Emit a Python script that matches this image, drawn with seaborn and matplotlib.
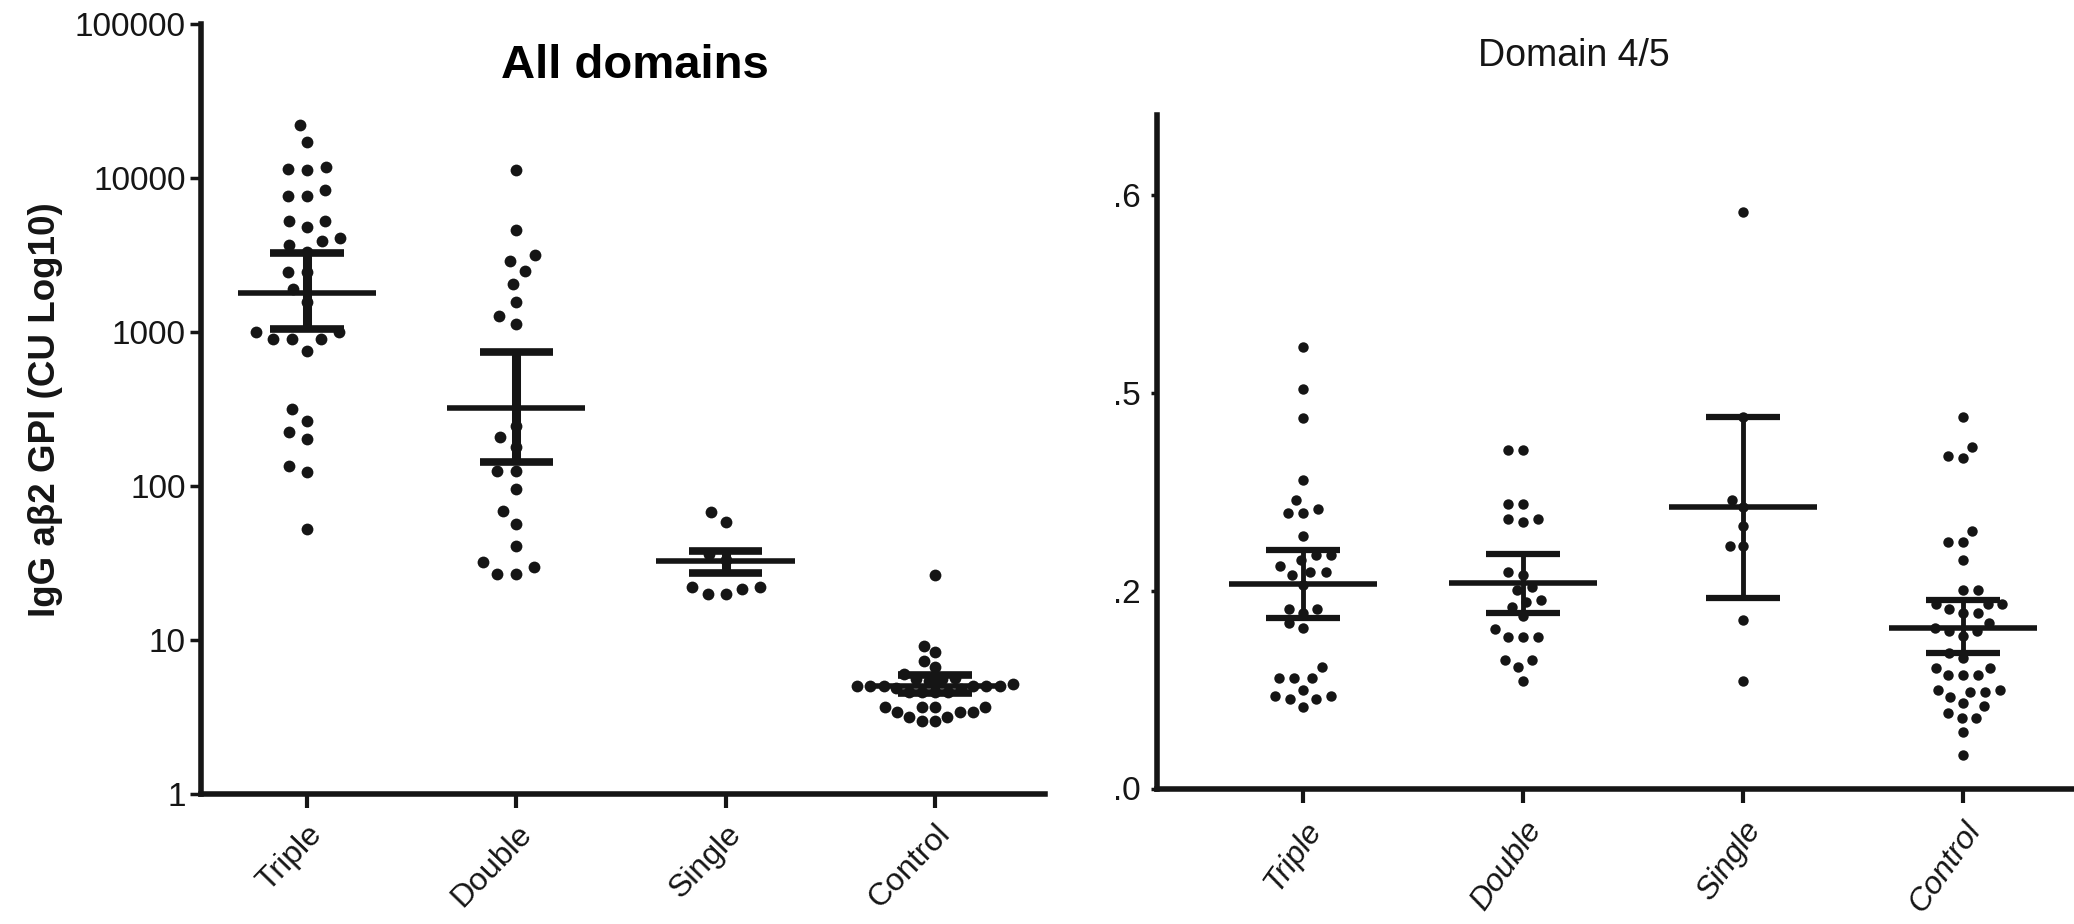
import numpy as np
import pandas as pd
import seaborn as sns
import matplotlib.pyplot as plt
from matplotlib.collections import PathCollection
from matplotlib.ticker import NullLocator

groups = ['Triple', 'Double', 'Single', 'Control']

# All domains (CU, log axis)
all_triple = [22100, 17200, 11500, 11200, 11800, 8400, 7600, 7600, 5280, 5280,
              4830, 4060, 3670, 3920, 3300, 2465, 2465, 1900, 1573, 1000, 1000,
              900, 900, 900, 757, 316, 266, 223, 202, 135, 123, 52.6]
all_double = [11300, 4610, 3160, 2900, 2500, 2050, 1573, 1277, 1127, 246, 207,
              180, 126, 126, 95.7, 69, 56.7, 40.6, 32, 29.7, 26.8, 26.8]
all_single = [67.5, 58.7, 36, 33, 22, 22, 19.9, 19.9, 21.4]
all_control = [26.4, 9.2, 8.3, 7.3, 6.65, 6.0, 5.7, 5.58, 5.58, 5.4, 5.2,
               5.05, 5.05, 5.05, 5.05, 5.05, 5.05, 4.9, 4.8, 4.57, 4.57, 4.57,
               4.57, 3.66, 3.66, 3.66, 3.66, 3.39, 3.39, 3.39, 3.15, 3.15,
               2.99, 2.99]
all_mean = [1784, 319, 32.4, 5.0]
all_lo = [1047, 143, 27.1, 4.5]
all_hi = [3245, 738, 38.0, 5.9]

# Domain 4/5
d45_triple = [0.446, 0.404, 0.375, 0.312, 0.292, 0.283, 0.279, 0.279, 0.255,
              0.236, 0.236, 0.231, 0.225, 0.219, 0.219, 0.216, 0.206, 0.182,
              0.182, 0.177, 0.167, 0.162, 0.123, 0.112, 0.112, 0.112, 0.100,
              0.094, 0.094, 0.090, 0.090, 0.082]
d45_double = [0.342, 0.342, 0.288, 0.288, 0.272, 0.272, 0.269, 0.219, 0.216,
              0.204, 0.201, 0.191, 0.189, 0.184, 0.174, 0.161, 0.153, 0.153,
              0.153, 0.130, 0.130, 0.123, 0.109]
d45_single = [0.583, 0.376, 0.292, 0.285, 0.265, 0.245, 0.245, 0.170, 0.109]
d45_control = [0.376, 0.345, 0.336, 0.334, 0.260, 0.249, 0.249, 0.231, 0.201,
               0.201, 0.187, 0.187, 0.187, 0.182, 0.177, 0.177, 0.167, 0.162,
               0.159, 0.159, 0.154, 0.137, 0.132, 0.122, 0.122, 0.115, 0.115,
               0.115, 0.100, 0.100, 0.098, 0.098, 0.093, 0.086, 0.083, 0.076,
               0.071, 0.071, 0.057, 0.034]
d45_mean = [0.2065, 0.2075, 0.285, 0.162]
d45_lo = [0.172, 0.177, 0.193, 0.137]
d45_hi = [0.241, 0.237, 0.376, 0.191]
d45_ticks = [0.0, 0.2, 0.4, 0.6]
d45_ticklabels = ['.0', '.2', '.5', '.6']


def long_table(cols):
    return pd.DataFrame({'group': np.repeat(groups, [len(c) for c in cols]),
                         'value': np.concatenate(cols)})


def mean_err(ax, mean, lo, hi, mw, cw, lw_mean, lw_cap, lw_bar):
    for i in range(len(groups)):
        ax.vlines(i, lo[i], hi[i], color=ink, lw=lw_bar, zorder=4)
        ax.hlines([lo[i], hi[i]], i - cw, i + cw, color=ink, lw=lw_cap, zorder=4)
        ax.hlines(mean[i], i - mw, i + mw, color=ink, lw=lw_mean, zorder=4)


def spread_swarm(ax, layout_sizes, dot_size):
    # lay the swarm out with wider spacing, then freeze it and shrink the dots
    cols = [c for c in ax.collections if isinstance(c, PathCollection)]
    for c, s in zip(cols, layout_sizes):
        c.set_sizes([s ** 2])
    ax.figure.canvas.draw()
    for c in cols:
        c.__dict__.pop('draw', None)
        c.set_sizes([dot_size ** 2])


sns.set_style('ticks')
plt.rcParams['font.family'] = ['Liberation Sans', 'DejaVu Sans']
ink = '#151515'

fig = plt.figure(figsize=(20.74, 9.24), dpi=100)
W, H = 2074, 924
ax1 = fig.add_axes([201 / W, 130 / H, 844 / W, 770 / H])
ax2 = fig.add_axes([1157 / W, 135.5 / H, 917 / W, 673.5 / H])

# left panel
df1 = long_table([all_triple, all_double, all_single, all_control])
sns.swarmplot(data=df1, x='group', y='value', order=groups, color=ink,
              size=8, log_scale=(False, True), ax=ax1)
ax1.set_ylim(1, 1e5)
ax1.set_xlim(-0.506, 3.526)

# right panel
df2 = long_table([d45_triple, d45_double, d45_single, d45_control])
sns.swarmplot(data=df2, x='group', y='value', order=groups, color=ink,
              size=7, ax=ax2)
ax2.set_ylim(0, 0.681)
ax2.set_xlim(-0.664, 3.505)

spread_swarm(ax1, [13, 13, 12, 9], 8.5)
spread_swarm(ax2, [10.5, 10.5, 9, 10], 7.5)

mean_err(ax1, all_mean, all_lo, all_hi, 0.33, 0.175, 4, 5.5, 6.5)
ax1.set_yticks([1, 10, 100, 1000, 10000, 100000])
ax1.set_yticklabels(['1', '10', '100', '1000', '10000', '100000'])
ax1.yaxis.set_minor_locator(NullLocator())
ax1.set_xticks(range(4))
ax1.set_xticklabels(groups, rotation=46, ha='right', rotation_mode='anchor')
ax1.tick_params(axis='y', length=8, width=2.5, labelsize=24, pad=3, colors=ink)
ax1.tick_params(axis='x', length=10, width=3, labelsize=23, pad=8, colors=ink)

mean_err(ax2, d45_mean, d45_lo, d45_hi, 0.335, 0.17, 4, 4.5, 3.5)
ax2.set_yticks(d45_ticks)
ax2.set_yticklabels(d45_ticklabels)
ax2.set_xticks(range(4))
ax2.set_xticklabels(groups, rotation=55, ha='right', rotation_mode='anchor',
                    style='italic')
ax2.tick_params(axis='y', length=4, width=2.5, labelsize=24, pad=8, colors=ink)
ax2.tick_params(axis='x', length=10, width=3, labelsize=23, pad=10, colors=ink)

for ax in (ax1, ax2):
    sns.despine(ax=ax)
    for s in ('left', 'bottom'):
        ax.spines[s].set_linewidth(4)
        ax.spines[s].set_color(ink)
    ax.set_xlabel('')
    ax.set_ylabel('')

fig.text(635 / W, 1 - 66 / H, 'All domains', ha='center', va='center',
         fontsize=34, weight='bold', color='black')
fig.text(1574 / W, 1 - 56 / H, 'Domain 4/5', ha='center', va='center',
         fontsize=27, color=ink)
fig.text(46 / W, 1 - 410 / H, 'IgG aβ2 GPI (CU Log10)', rotation=90,
         ha='center', va='center', fontsize=26.5, weight='bold', color=ink)

fig.savefig('out.png', dpi=100)
